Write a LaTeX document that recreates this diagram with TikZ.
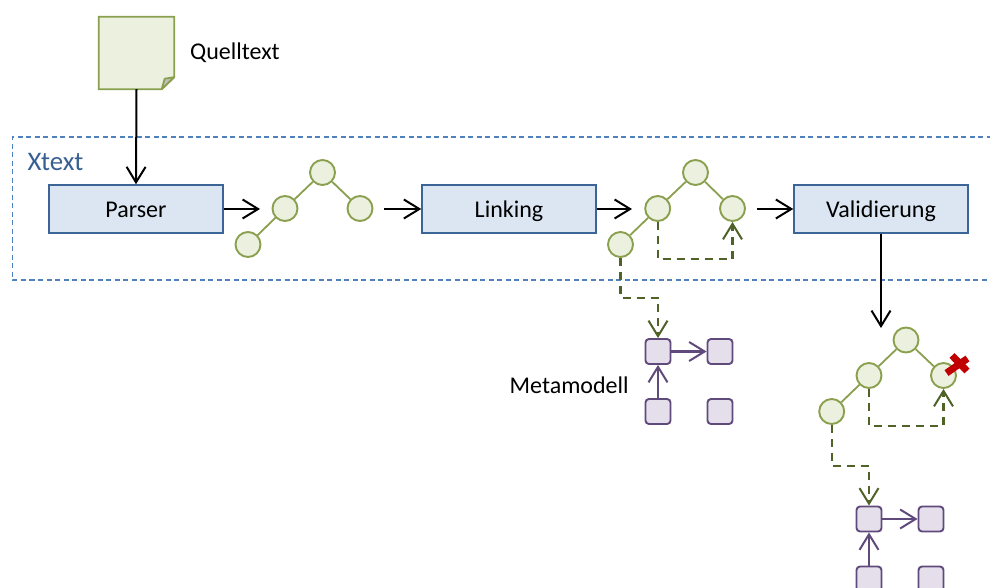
\documentclass[tikz,border=0pt]{standalone}
\usepackage{fontspec}
\setmainfont{Carlito}
\usetikzlibrary{arrows.meta,calc}
\definecolor{gfill}{HTML}{EBF1DE}
\definecolor{gline}{HTML}{8AA04E}
\definecolor{gdash}{HTML}{4F6228}
\definecolor{bfill}{HTML}{DCE6F2}
\definecolor{bline}{HTML}{3A6596}
\definecolor{pfill}{HTML}{E5DFEC}
\definecolor{pline}{HTML}{604A7B}
\definecolor{xblue}{HTML}{4F81BD}
\definecolor{xtext}{HTML}{376092}
\definecolor{xred}{HTML}{C00000}
\tikzset{
  x=1pt,y=-1pt,
  barb/.style={-{Straight Barb[length=15.5pt,width=19pt,line width=2pt]}},
  stagebox/.style={draw=bline,fill=bfill,line width=1.5pt,minimum width=174pt,minimum height=48pt,inner sep=0pt,text height=16pt,text depth=0pt,font=\fontsize{24pt}{28pt}\selectfont},
  treenode/.style={circle,draw=gline,fill=gfill,line width=1.9pt,minimum size=25pt,inner sep=0pt},
  treeedge/.style={draw=gline,line width=1.8pt},
  metanode/.style={rectangle,rounded corners=3.5pt,draw=pline,fill=pfill,line width=1.9pt,minimum size=25pt,inner sep=0pt},
  flow/.style={barb,black,line width=2pt},
  refline/.style={barb,draw=gdash,color=gdash,line width=2.1pt,dash pattern=on 8pt off 6pt},
  metaline/.style={barb,color=pline,line width=2.1pt},
  label/.style={font=\fontsize{24pt}{28pt}\selectfont,inner sep=0pt,anchor=west},
}
\begin{document}
\begin{tikzpicture}
\useasboundingbox (0,0) rectangle (990,588);
\clip (0,0) rectangle (990,588);
\fill[white] (0,0) rectangle (990,588);
% Xtext region
\draw[xblue,line width=1.4pt,dash pattern=on 5pt off 3.5pt] (1000,137) -- (12.5,137) -- (12.5,280) -- (1000,280);
\node[label,text=xtext,font=\fontsize{26.8pt}{30pt}\selectfont] (xt) at (27.5,162) {Xtext};
% document
\node[minimum width=75pt,minimum height=72pt,inner sep=0pt] (doc) at (136.5,53) {};
\draw[gline,fill=gfill,line width=1.8pt,line join=miter] (doc.north west) -- (doc.north east) -- ($(doc.south east)+(0,-12)$) -- ($(doc.south east)+(-12.5,0)$) -- (doc.south west) -- cycle;
\draw[gline,fill=black!25,line width=1.8pt,line join=round] ($(doc.south east)+(-12.5,0)$) -- ($(doc.south east)+(-9.5,-10.5)$) -- ($(doc.south east)+(0,-12)$) -- cycle;
\node[label] (quell) at (190,53) {Quelltext};
% stages
\node[stagebox] (parser) at (136,209) {Parser};
\node[stagebox] (linking) at (509,209) {Linking};
\node[stagebox] (valid) at (881,209) {Validierung};
% tree 1
\node[treenode] (a1) at (322.5,172.5) {};
\node[treenode] (a2) at (285,208.5) {};
\node[treenode] (a3) at (360,208.5) {};
\node[treenode] (a4) at (248,244.5) {};
\draw[treeedge] (a1) -- (a2) (a1) -- (a3) (a2) -- (a4);
% tree 2
\node[treenode] (b1) at (695.5,172.5) {};
\node[treenode] (b2) at (657.7,208.5) {};
\node[treenode] (b3) at (732.5,208.5) {};
\node[treenode] (b4) at (620.5,244.5) {};
\draw[treeedge] (b1) -- (b2) (b1) -- (b3) (b2) -- (b4);
% tree 3
\node[treenode] (c1) at (906,340) {};
\node[treenode] (c2) at (869,375.5) {};
\node[treenode] (c3) at (943.5,375.5) {};
\node[treenode] (c4) at (831.7,411.5) {};
\draw[treeedge] (c1) -- (c2) (c1) -- (c3) (c2) -- (c4);
% red cross
\coordinate (cross) at (957.5,365.5);
\draw[xred,line width=7pt] (cross) ++(-5.5,-10) -- ++(15,15.5);
\draw[xred,line width=7pt] (cross) ++(10,-7) -- ++(-21,14.5);
% metamodel 1
\node[metanode] (m1) at (658,351.5) {};
\node[metanode] (m2) at (720,351.5) {};
\node[metanode] (m3) at (658,411.5) {};
\node[metanode] (m4) at (720,411.5) {};
\node[label] (mm) at (509.5,385.5) {Metamodell};
% metamodel 2
\node[metanode] (n1) at (869,519) {};
\node[metanode] (n2) at (931,519) {};
\node[metanode] (n3) at (869,579) {};
\node[metanode] (n4) at (931,579) {};
% connectors
\coordinate (f1) at (260,209);
\coordinate (f2) at (384,209);
\coordinate (f3) at (632,209);
\coordinate (f4) at (757,209);
\coordinate (f5) at (881,328);
\draw[flow] (doc.south) -- (parser.north);
\draw[flow] (parser.east) -- (f1);
\draw[flow] (f2) -- (linking.west);
\draw[flow] (linking.east) -- (f3);
\draw[flow] (f4) -- (valid.west);
\draw[flow] (valid.south) -- (f5);
\draw[refline] (b2.south) -- ++(0,37) -| (b3.south);
\draw[refline] (b4.south) -- ++(0,40) -| (m1.north);
\draw[refline] (c2.south) -- ++(0,37) -| (c3.south);
\draw[refline] (c4.south) -- ++(0,41) -| (n1.north);
\draw[metaline] (m1) -- (m2);
\draw[metaline] (m3) -- (m1);
\draw[metaline] (n1) -- (n2);
\draw[metaline] (n3) -- (n1);
\end{tikzpicture}
\end{document}
